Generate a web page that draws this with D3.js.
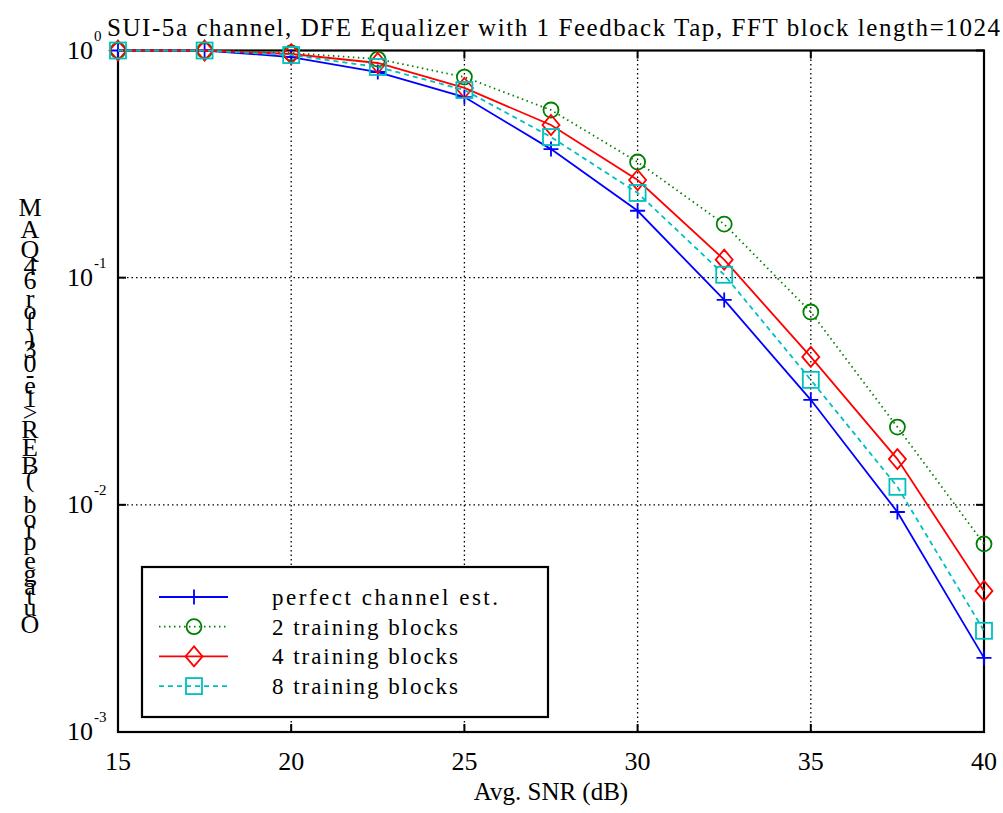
<!DOCTYPE html>
<html lang="en">
<head>
<meta charset="UTF-8">
<title>SUI-5a outage</title>
<style>
  body { margin: 0; background: #fff; }
  svg text { font-family: 'Liberation Serif', 'Times New Roman', Times, serif; fill: #000; }
</style>
</head>
<body>
<svg id="chart" width="1003" height="813"></svg>
<script src="https://d3js.org/d3.v7.min.js"></script>
<script>
// data
var snr = [15, 17.5, 20, 22.5, 25, 27.5, 30, 32.5, 35, 37.5, 40];
var perfectEst = [1, 1, 0.936, 0.804, 0.624, 0.368, 0.197, 0.0798, 0.0290, 0.0093, 0.00212];
var train2 = [1, 1, 0.975, 0.917, 0.764, 0.547, 0.323, 0.172, 0.0706, 0.0220, 0.00673];
var train4 = [1, 1, 0.965, 0.881, 0.684, 0.470, 0.269, 0.120, 0.0448, 0.0159, 0.00418];
var train8 = [1, 1, 0.955, 0.846, 0.670, 0.416, 0.236, 0.103, 0.0355, 0.0120, 0.00279];
var seriesNames = ["perfect channel est.", "2 training blocks", "4 training blocks", "8 training blocks"];
var xTicks = [15, 20, 25, 30, 35, 40];
var yTicks = [1e-3, 1e-2, 1e-1, 1];
var yExp = ["-3", "-2", "-1", "0"];

var titleText = "SUI-5a channel, DFE Equalizer with 1 Feedback Tap, FFT block length=1024";
var xLabelText = "Avg. SNR (dB)";
var yLabelText = "Outage prob. (BER>1e-03) for 64QAM";

var svg = d3.select("#chart");
var box = {left: 118, right: 984, top: 50.5, bottom: 732};

var x = d3.scaleLinear().domain([15, 40]).range([box.left, box.right]);
var y = d3.scaleLog().domain([1e-3, 1]).range([box.bottom, box.top]);

// grid
var grid = svg.append("g").attr("stroke", "#000").attr("stroke-width", 1.3)
    .attr("stroke-dasharray", "1.5,3");
grid.selectAll(".vg").data(xTicks.slice(1, -1)).enter().append("line")
    .attr("x1", function(d) { return x(d); }).attr("x2", function(d) { return x(d); })
    .attr("y1", box.top).attr("y2", box.bottom);
grid.selectAll(".hg").data(yTicks.slice(1, -1)).enter().append("line")
    .attr("x1", box.left).attr("x2", box.right)
    .attr("y1", function(d) { return y(d); }).attr("y2", function(d) { return y(d); });

// box + inward ticks
svg.append("rect").attr("x", box.left).attr("y", box.top)
    .attr("width", box.right - box.left).attr("height", box.bottom - box.top)
    .attr("fill", "none").attr("stroke", "#000").attr("stroke-width", 2.2);

var tk = 8;
var ticks = svg.append("g").attr("stroke", "#000").attr("stroke-width", 2);
xTicks.forEach(function(d) {
  ticks.append("line").attr("x1", x(d)).attr("x2", x(d)).attr("y1", box.bottom).attr("y2", box.bottom - tk);
  ticks.append("line").attr("x1", x(d)).attr("x2", x(d)).attr("y1", box.top).attr("y2", box.top + tk);
});
yTicks.forEach(function(d) {
  ticks.append("line").attr("x1", box.left).attr("x2", box.left + tk).attr("y1", y(d)).attr("y2", y(d));
  ticks.append("line").attr("x1", box.right).attr("x2", box.right - tk).attr("y1", y(d)).attr("y2", y(d));
});

// tick labels
svg.append("g").selectAll("text").data(xTicks).enter().append("text")
    .attr("x", function(d) { return x(d); }).attr("y", box.bottom + 38)
    .attr("text-anchor", "middle").style("font-size", "26px")
    .text(function(d) { return d; });

var yl = svg.append("g").selectAll("g").data(yTicks).enter().append("g")
    .attr("transform", function(d) { return "translate(0," + y(d) + ")"; });
yl.append("text").attr("x", 93).attr("y", 8).attr("text-anchor", "end")
    .style("font-size", "26px").text("10");
yl.append("text").attr("x", 94).attr("y", -10).style("font-size", "15px")
    .text(function(d, i) { return yExp[i]; });

// series
var series = [
  {vals: perfectEst, color: "#0000ff", dash: null, mark: "plus"},
  {vals: train2, color: "#008000", dash: "1.5,3.5", mark: "circle"},
  {vals: train4, color: "#ff0000", dash: null, mark: "diamond"},
  {vals: train8, color: "#00bfbf", dash: "5,4", mark: "square"}
];

var line = d3.line().x(function(d) { return x(d[0]); }).y(function(d) { return y(d[1]); });

function drawMarker(g, type, color) {
  if (type === "plus") {
    g.append("path").attr("d", "M-7.5,0H7.5M0,-7.5V7.5");
  } else if (type === "circle") {
    g.append("circle").attr("r", 7.5);
  } else if (type === "diamond") {
    g.append("path").attr("d", "M0,-10L8.5,0L0,10L-8.5,0Z");
  } else {
    g.append("rect").attr("x", -8).attr("y", -8).attr("width", 16).attr("height", 16);
  }
  g.attr("fill", "none").attr("stroke", color).attr("stroke-width", 1.8);
}

series.forEach(function(s) {
  var pts = snr.map(function(v, i) { return [v, s.vals[i]]; });
  svg.append("path").datum(pts).attr("d", line)
      .attr("fill", "none").attr("stroke", s.color).attr("stroke-width", 1.8)
      .attr("stroke-dasharray", s.dash);
  pts.forEach(function(p) {
    var g = svg.append("g").attr("transform", "translate(" + x(p[0]) + "," + y(p[1]) + ")");
    drawMarker(g, s.mark, s.color);
  });
});

// legend
var lg = svg.append("g");
lg.append("rect").attr("x", 142).attr("y", 567).attr("width", 406).attr("height", 150)
    .attr("fill", "#fff").attr("stroke", "#000").attr("stroke-width", 2.2);
var legendWidths = [226, 186, 186, 186];
series.forEach(function(s, i) {
  var ry = 597 + i * 29.7;
  lg.append("line").attr("x1", 159).attr("x2", 228).attr("y1", ry).attr("y2", ry)
      .attr("stroke", s.color).attr("stroke-width", 1.8).attr("stroke-dasharray", s.dash);
  var g = lg.append("g").attr("transform", "translate(194," + ry + ")");
  drawMarker(g, s.mark, s.color);
  lg.append("text").attr("x", 272).attr("y", ry + 8).style("font-size", "23px")
      .attr("textLength", legendWidths[i]).attr("lengthAdjust", "spacing")
      .text(seriesNames[i]);
});

// title and x label
svg.append("text").attr("x", 107).attr("y", 36).style("font-size", "25px")
    .attr("textLength", 893).attr("lengthAdjust", "spacing").text(titleText);
svg.append("text").attr("x", 551).attr("y", 800).attr("text-anchor", "middle")
    .style("font-size", "25px").text(xLabelText);

// y label: characters stacked upright, bottom to top
var chars = yLabelText.split("");
var meas = svg.append("text").style("font-size", "26px");
var adv = chars.map(function(c) {
  meas.text(c === " " ? "\u00a0" : c);
  return meas.node().getComputedTextLength();
});
meas.remove();
var total = d3.sum(adv) - adv[adv.length - 1] / 2 - adv[0] / 2;
var yBottom = 624, yTop = 207;
var k = (yBottom - yTop) / total;
var pos = 0;
chars.forEach(function(c, i) {
  if (i > 0) pos += (adv[i - 1] + adv[i]) / 2;
  svg.append("text").attr("x", 30).attr("y", yBottom - pos * k + 9)
      .attr("text-anchor", "middle").style("font-size", "26px").text(c);
});
</script>
</body>
</html>
